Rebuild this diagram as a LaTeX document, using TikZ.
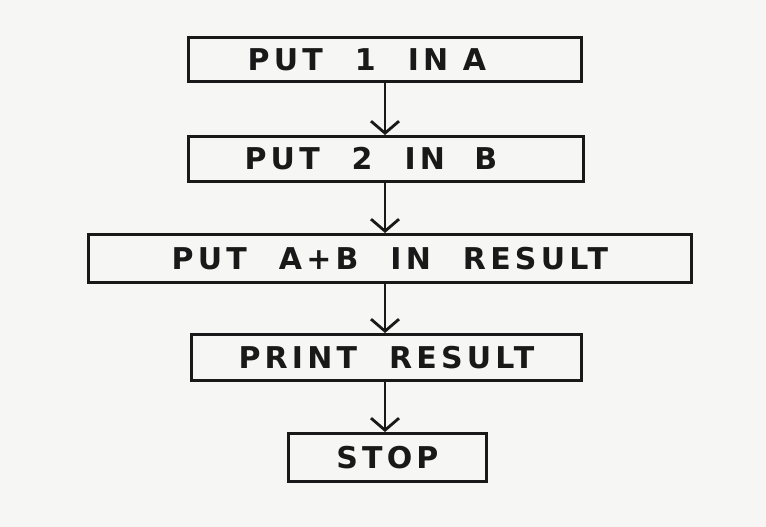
\documentclass[tikz,border=0pt]{standalone}
\usepackage{fontspec}
\setmainfont{DejaVu Sans}
\newfontfamily\handfont[LetterSpace=14]{DejaVu Sans}
\newcommand{\wgap}{\hspace{32pt}}
\usetikzlibrary{arrows.meta}
\definecolor{paper}{rgb}{0.965,0.965,0.955}
\definecolor{ink}{rgb}{0.1,0.1,0.1}
\begin{document}
\begin{tikzpicture}[x=1pt,y=-1pt,
  stepbox/.style={draw=ink,line width=2.8pt,inner sep=0pt,anchor=north west,
     text=ink,font=\handfont\bfseries\fontsize{30}{31}\selectfont,align=center},
  flow/.style={draw=ink,line width=2.8pt,-{Straight Barb[length=12pt,width=28pt,line width=2.8pt]}}]
\fill[paper] (0,0) rectangle (766,527);
\useasboundingbox (0,0) rectangle (766,527);
\node[stepbox,minimum width=393pt,minimum height=44pt] (a) at (187,36) {PUT\wgap 1\wgap IN\ A\hspace{36pt}};
\node[stepbox,minimum width=395pt,minimum height=45pt] (b) at (187,135) {PUT\wgap 2\wgap IN\ \ B\hspace{30pt}};
\node[stepbox,minimum width=603pt,minimum height=48pt] (c) at (87,233) {PUT\wgap A+B\wgap IN\wgap RESULT};
\node[stepbox,minimum width=390pt,minimum height=46pt] (d) at (190,333) {PRINT\wgap RESULT};
\node[stepbox,minimum width=198pt,minimum height=48pt] (e) at (287,432) {STOP};
\draw[flow] (a.south -| 385,0) -- (b.north -| 385,0);
\draw[flow] (b.south -| 385,0) -- (c.north -| 385,0);
\draw[flow] (c.south -| 385,0) -- (d.north -| 385,0);
\draw[flow] (d.south -| 385,0) -- (e.north -| 385,0);
\end{tikzpicture}
\end{document}
